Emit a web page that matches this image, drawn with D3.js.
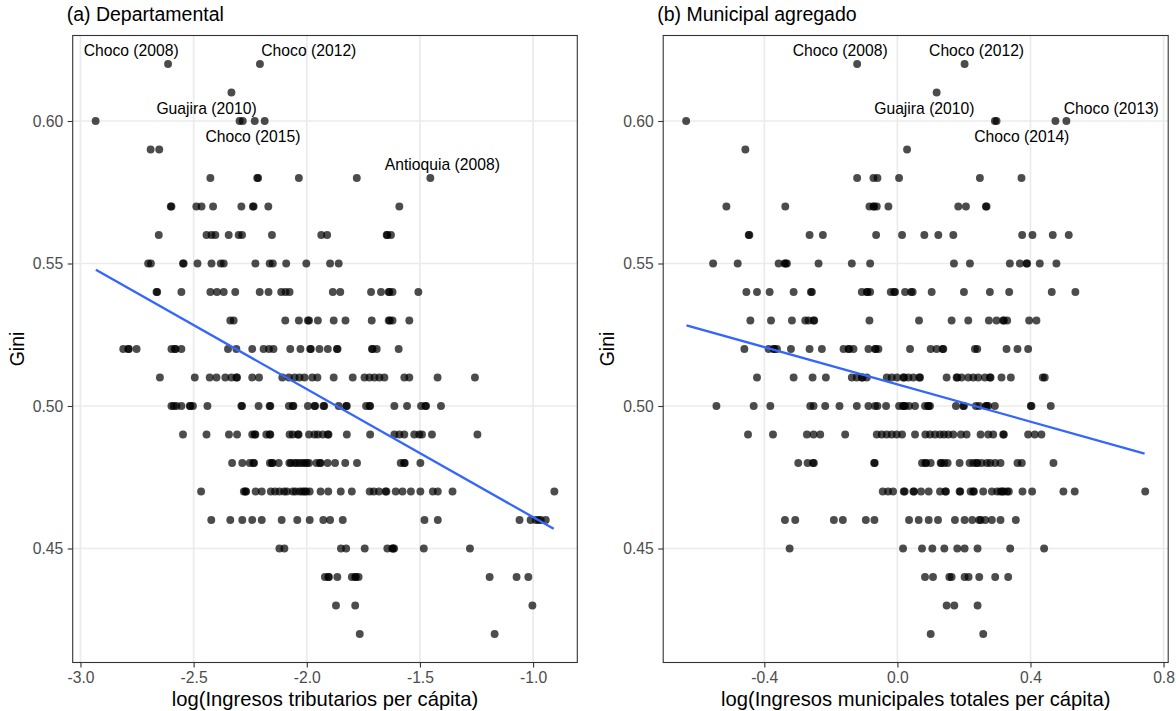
<!DOCTYPE html>
<html><head><meta charset="utf-8">
<script src="https://cdn.jsdelivr.net/npm/d3@7"></script>
<style>
body{margin:0;background:#fff}
svg{display:block}
text{font-family:"Liberation Sans", Arial, sans-serif}
</style>
</head><body>
<svg id="chart" width="1176" height="711"></svg>
<script>
// ---- data ----
const giniLevels = [0.62,0.61,0.60,0.59,0.58,0.57,0.56,0.55,0.54,0.53,0.52,0.51,0.50,0.49,0.48,0.47,0.46,0.45,0.44,0.43,0.42];

// (a) Departamental: log(Ingresos tributarios per capita), one list per Gini level
const deptX = [
  [-2.613,-2.207],
  [-2.333],
  [-2.933,-2.297,-2.283,-2.230,-2.186],
  [-2.690,-2.652],
  [-2.426,-2.219,-2.215,-2.035,-1.779,-1.454],
  [-2.601,-2.598,-2.488,-2.465,-2.414,-2.289,-2.238,-2.235,-2.170,-1.591],
  [-2.654,-2.443,-2.421,-2.404,-2.345,-2.301,-2.286,-2.154,-1.936,-1.910,-1.647,-1.644,-1.628],
  [-2.701,-2.689,-2.547,-2.544,-2.483,-2.421,-2.380,-2.367,-2.227,-2.164,-2.150,-2.091,-2.002,-1.897,-1.859],
  [-2.664,-2.661,-2.554,-2.426,-2.397,-2.367,-2.316,-2.208,-2.169,-2.113,-2.094,-2.076,-1.885,-1.852,-1.716,-1.672,-1.638,-1.635,-1.621,-1.507],
  [-2.338,-2.323,-2.095,-2.035,-1.995,-1.990,-1.951,-1.881,-1.829,-1.713,-1.638,-1.633,-1.621,-1.547],
  [-2.811,-2.789,-2.786,-2.752,-2.598,-2.583,-2.580,-2.554,-2.348,-2.311,-2.241,-2.191,-2.167,-2.147,-2.073,-2.028,-1.985,-1.982,-1.944,-1.907,-1.867,-1.864,-1.712,-1.709,-1.691,-1.594],
  [-2.649,-2.495,-2.429,-2.399,-2.360,-2.333,-2.311,-2.308,-2.241,-2.211,-2.108,-2.079,-2.054,-2.032,-2.010,-1.976,-1.953,-1.881,-1.797,-1.745,-1.723,-1.701,-1.679,-1.657,-1.569,-1.547,-1.422,-1.257],
  [-2.598,-2.588,-2.576,-2.554,-2.517,-2.514,-2.503,-2.439,-2.289,-2.286,-2.213,-2.164,-2.161,-2.079,-2.062,-2.059,-1.995,-1.966,-1.963,-1.926,-1.923,-1.859,-1.826,-1.823,-1.738,-1.723,-1.720,-1.613,-1.557,-1.495,-1.476,-1.473,-1.407],
  [-2.547,-2.443,-2.344,-2.308,-2.241,-2.230,-2.227,-2.179,-2.164,-2.161,-2.076,-2.062,-2.039,-2.036,-1.990,-1.966,-1.951,-1.929,-1.907,-1.904,-1.823,-1.720,-1.613,-1.591,-1.569,-1.525,-1.503,-1.491,-1.447,-1.246],
  [-2.330,-2.285,-2.252,-2.236,-2.233,-2.163,-2.154,-2.151,-2.124,-2.077,-2.070,-2.054,-2.045,-2.032,-2.020,-2.009,-2.000,-1.990,-1.957,-1.942,-1.939,-1.908,-1.875,-1.830,-1.778,-1.585,-1.570,-1.567,-1.498],
  [-2.467,-2.278,-2.271,-2.268,-2.226,-2.199,-2.159,-2.140,-2.121,-2.100,-2.088,-2.062,-2.050,-2.032,-2.020,-2.010,-2.002,-1.987,-1.939,-1.905,-1.850,-1.801,-1.722,-1.704,-1.681,-1.652,-1.648,-1.607,-1.577,-1.540,-1.498,-1.443,-1.421,-1.356,-0.906],
  [-2.422,-2.338,-2.285,-2.241,-2.199,-2.111,-2.042,-1.987,-1.927,-1.897,-1.841,-1.480,-1.421,-1.060,-1.011,-0.988,-0.975,-0.966,-0.944],
  [-2.121,-2.099,-1.849,-1.826,-1.744,-1.644,-1.622,-1.619,-1.614,-1.483,-1.279],
  [-1.920,-1.905,-1.902,-1.865,-1.801,-1.786,-1.783,-1.771,-1.192,-1.073,-1.021],
  [-1.871,-1.786,-1.003],
  [-1.766,-1.170]
];

// (b) Municipal agregado: log(Ingresos municipales totales per capita)
const muniX = [
  [-0.121,0.202],
  [0.118],
  [-0.635,0.293,0.298,0.475,0.508],
  [-0.457,0.029],
  [-0.121,-0.072,-0.060,0.005,0.248,0.373],
  [-0.514,-0.337,-0.084,-0.072,-0.070,-0.062,-0.027,0.183,0.206,0.266,0.268],
  [-0.447,-0.445,-0.264,-0.224,-0.064,0.014,0.081,0.123,0.168,0.375,0.406,0.467,0.515],
  [-0.554,-0.480,-0.357,-0.339,-0.336,-0.332,-0.237,-0.137,-0.082,0.170,0.218,0.338,0.368,0.388,0.390,0.428,0.478],
  [-0.454,-0.422,-0.384,-0.312,-0.260,-0.257,-0.107,-0.092,-0.090,-0.082,-0.020,-0.010,-0.007,0.023,0.041,0.046,0.103,0.200,0.278,0.336,0.464,0.535],
  [-0.442,-0.380,-0.317,-0.277,-0.267,-0.252,-0.250,-0.084,0.065,0.163,0.213,0.275,0.298,0.318,0.320,0.330,0.396,0.418],
  [-0.460,-0.387,-0.372,-0.370,-0.362,-0.320,-0.264,-0.227,-0.162,-0.147,-0.145,-0.132,-0.087,-0.067,-0.065,-0.057,0.038,0.100,0.118,0.136,0.138,0.233,0.240,0.328,0.361,0.393],
  [-0.422,-0.312,-0.255,-0.215,-0.137,-0.122,-0.107,-0.105,-0.092,-0.032,-0.017,-0.001,0.018,0.020,0.033,0.048,0.066,0.068,0.148,0.178,0.180,0.193,0.213,0.228,0.243,0.263,0.278,0.280,0.313,0.341,0.437,0.443],
  [-0.544,-0.432,-0.382,-0.262,-0.252,-0.217,-0.174,-0.122,-0.087,-0.067,-0.060,-0.034,0.005,0.017,0.019,0.023,0.035,0.053,0.083,0.092,0.094,0.098,0.176,0.198,0.200,0.236,0.246,0.266,0.268,0.273,0.293,0.401,0.403,0.461],
  [-0.449,-0.374,-0.272,-0.252,-0.232,-0.157,-0.062,-0.047,-0.032,-0.017,-0.002,0.014,0.053,0.084,0.098,0.113,0.128,0.140,0.153,0.168,0.191,0.208,0.250,0.273,0.288,0.318,0.320,0.393,0.413,0.433],
  [-0.298,-0.270,-0.254,-0.251,-0.070,-0.068,0.074,0.084,0.086,0.100,0.130,0.132,0.141,0.151,0.187,0.217,0.228,0.238,0.240,0.253,0.269,0.279,0.294,0.310,0.361,0.374,0.469],
  [-0.044,-0.028,-0.013,0.019,0.022,0.048,0.050,0.071,0.094,0.128,0.144,0.146,0.187,0.189,0.220,0.228,0.230,0.258,0.284,0.300,0.310,0.315,0.320,0.330,0.335,0.376,0.405,0.499,0.533,0.745],
  [-0.338,-0.307,-0.191,-0.164,-0.095,-0.069,0.035,0.064,0.094,0.122,0.173,0.202,0.225,0.246,0.250,0.264,0.284,0.310,0.356],
  [-0.324,0.017,0.074,0.105,0.141,0.180,0.202,0.241,0.339,0.441],
  [0.083,0.107,0.156,0.163,0.202,0.214,0.246,0.294,0.333],
  [0.148,0.171,0.241],
  [0.100,0.258]
];

// linear fit lines (endpoints)
const deptFitX = [-2.932, -0.909];
const deptFitY = [0.5478, 0.4569];
const muniFitX = [-0.634, 0.743];
const muniFitY = [0.5283, 0.4833];

// point labels
const deptLabelText = ["Choco (2008)","Choco (2012)","Guajira (2010)","Choco (2015)","Antioquia (2008)"];
const deptLabelX = [-2.776,-1.991,-2.443,-2.238,-1.401];
const deptLabelY = [0.6249,0.6249,0.6044,0.5945,0.5848];
const muniLabelText = ["Choco (2008)","Choco (2012)","Guajira (2010)","Choco (2014)","Choco (2013)"];
const muniLabelX = [-0.172,0.238,0.081,0.374,0.643];
const muniLabelY = [0.6249,0.6249,0.6044,0.5945,0.6044];

// ticks
const deptTicks = [-3.0,-2.5,-2.0,-1.5,-1.0];
const deptTickLabels = ["-3.0","-2.5","-2.0","-1.5","-1.0"];
const muniTicks = [-0.4,0.0,0.4,0.8];
const muniTickLabels = ["-0.4","0.0","0.4","0.8"];
const giniTicks = [0.45,0.50,0.55,0.60];
const giniTickLabels = ["0.45","0.50","0.55","0.60"];

const panelTitles = ["(a) Departamental","(b) Municipal agregado"];
const xTitles = ["log(Ingresos tributarios per cápita)","log(Ingresos municipales totales per cápita)"];
const yTitle = "Gini";

// ---- drawing ----
const svg = d3.select("#chart");
const TOP = 35.5, BOTTOM = 662.5;

function expand(ext, m){ const r = ext[1]-ext[0]; return [ext[0]-r*m, ext[1]+r*m]; }

function drawPanel(p){
  const pts = [];
  giniLevels.forEach((g,i)=>p.xs[i].forEach(v=>pts.push({x:v,y:g})));
  const x = d3.scaleLinear().domain(expand(d3.extent(pts,d=>d.x),0.05)).range([p.left,p.right]);
  const y = d3.scaleLinear().domain(expand(d3.extent(pts,d=>d.y),0.05)).range([BOTTOM,TOP]);
  const g = svg.append("g");

  // grid
  g.selectAll(".gx").data(p.ticks).join("line")
    .attr("x1",d=>x(d)).attr("x2",d=>x(d)).attr("y1",TOP).attr("y2",BOTTOM)
    .attr("stroke","#ebebeb").attr("stroke-width",1.7);
  g.selectAll(".gy").data(giniTicks).join("line").attr("class","gy")
    .attr("x1",p.left).attr("x2",p.right).attr("y1",d=>y(d)).attr("y2",d=>y(d))
    .attr("stroke","#ebebeb").attr("stroke-width",1.7);

  // points
  g.append("g").selectAll("circle").data(pts).join("circle")
    .attr("cx",d=>x(d.x)).attr("cy",d=>y(d.y)).attr("r",3.95)
    .attr("fill","#000").attr("fill-opacity",0.7);

  // fit line
  const line = d3.line().x(d=>x(d[0])).y(d=>y(d[1]));
  g.append("path").datum(p.fitX.map((v,i)=>[v,p.fitY[i]]))
    .attr("d",line).attr("fill","none").attr("stroke","#3366FF").attr("stroke-width",2.3);

  // labels
  g.append("g").selectAll("text").data(p.labText).join("text")
    .attr("x",(d,i)=>x(p.labX[i])).attr("y",(d,i)=>y(p.labY[i]))
    .attr("text-anchor","middle").attr("dominant-baseline","central")
    .attr("font-size",15.7).attr("fill","#000").text(d=>d);

  // border
  g.append("rect").attr("x",p.left).attr("y",TOP).attr("width",p.right-p.left).attr("height",BOTTOM-TOP)
    .attr("fill","none").attr("stroke","#333333").attr("stroke-width",1.1);

  // axes
  const ax = g.append("g").attr("transform",`translate(0,${BOTTOM})`)
    .call(d3.axisBottom(x).tickValues(p.ticks).tickFormat((d,i)=>p.tickLabels[i]).tickSize(5).tickSizeOuter(0).tickPadding(4));
  ax.select(".domain").remove();
  ax.selectAll("line").attr("stroke","#333333").attr("stroke-width",1.1);
  ax.selectAll("text").attr("font-size",15.7).attr("fill","#4d4d4d").attr("font-family",null);

  const ay = g.append("g").attr("transform",`translate(${p.left},0)`)
    .call(d3.axisLeft(y).tickValues(giniTicks).tickFormat((d,i)=>giniTickLabels[i]).tickSize(5).tickSizeOuter(0).tickPadding(4.5));
  ay.select(".domain").remove();
  ay.selectAll("line").attr("stroke","#333333").attr("stroke-width",1.1);
  ay.selectAll("text").attr("font-size",15.7).attr("fill","#4d4d4d").attr("font-family",null);

  // titles
  g.append("text").attr("x",(p.left+p.right)/2).attr("y",706).attr("text-anchor","middle")
    .attr("font-size",20.2).attr("fill","#000").text(p.xTitle);
  g.append("text").attr("transform",`translate(${p.left-49},${(TOP+BOTTOM)/2}) rotate(-90)`)
    .attr("text-anchor","middle").attr("font-size",19.5).attr("fill","#000").text(yTitle);
  g.append("text").attr("x",p.left-6).attr("y",21).attr("font-size",19.5).attr("fill","#000").text(p.title);
}

drawPanel({left:72.7,right:577.3,xs:deptX,ticks:deptTicks,tickLabels:deptTickLabels,
  fitX:deptFitX,fitY:deptFitY,labText:deptLabelText,labX:deptLabelX,labY:deptLabelY,
  xTitle:xTitles[0],title:panelTitles[0]});
drawPanel({left:663.2,right:1168.2,xs:muniX,ticks:muniTicks,tickLabels:muniTickLabels,
  fitX:muniFitX,fitY:muniFitY,labText:muniLabelText,labX:muniLabelX,labY:muniLabelY,
  xTitle:xTitles[1],title:panelTitles[1]});
</script>
</body></html>
